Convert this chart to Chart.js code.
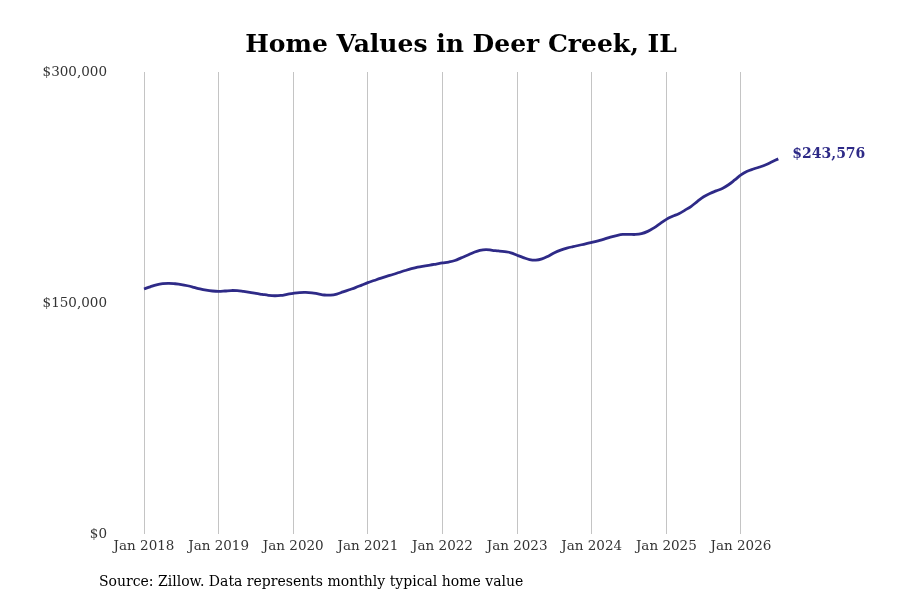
<!DOCTYPE html>
<html>
<head>
<meta charset="utf-8">
<script src="https://cdn.jsdelivr.net/npm/chart.js@4"></script>
<style>
  html, body { margin: 0; padding: 0; background: #fff; }
  #wrap { width: 900px; height: 600px; }
</style>
</head>
<body>
<div id="wrap"><canvas id="home-values"></canvas></div>
<script>
// monthly typical home value, Jan 2018 .. Jul 2026
var months = [];
var yearLabels = ['Jan 2018', 'Jan 2019', 'Jan 2020', 'Jan 2021', 'Jan 2022', 'Jan 2023', 'Jan 2024', 'Jan 2025', 'Jan 2026'];
var yTicks = [0, 150000, 300000];
var homeValues = [
    159100, 160500, 161800, 162600, 162800, 162500, 162000, 161200, 160200, 159100, 158300, 157800,
    157600, 157800, 158100, 158000, 157500, 156900, 156200, 155600, 155000, 154700, 154900, 155600,
    156300, 156800, 156900, 156600, 155900, 155200, 155100, 155800, 157200, 158600, 160000, 161600,
    163200, 164600, 166000, 167300, 168500, 169800, 171100, 172300, 173300, 174000, 174600, 175300,
    176000, 176600, 177600, 179300, 181000, 182800, 184200, 184700, 184200, 183800, 183300, 182600,
    181000, 179500, 178200, 177800, 178600, 180400, 182600, 184300, 185600, 186600, 187500, 188400,
    189400, 190400, 191500, 192800, 193800, 194500, 194600, 194500, 195000, 196500, 198800, 201600,
    204300, 206300, 208000, 210300, 212800, 216000, 219000, 221100, 222800, 224400, 226800, 229900,
    233200, 235500, 237000, 238300, 239800, 241700, 243576
];
for (var i = 0; i < homeValues.length; i++) months.push(i);

var lineColor = '#2e2a87';
var serif = "'DejaVu Serif', serif";

function money(v) {
    return '$' + Math.round(v).toLocaleString('en-US');
}

var textPlugin = {
    id: 'textPlugin',
    afterDraw: function(chart) {
        var ctx = chart.ctx;
        ctx.save();
        // title
        ctx.fillStyle = '#000';
        ctx.font = 'bold 25px ' + serif;
        ctx.textAlign = 'center';
        ctx.textBaseline = 'middle';
        ctx.fillText('Home Values in Deer Creek, IL', 461, 45);
        // source
        ctx.font = '14px ' + serif;
        ctx.textAlign = 'left';
        ctx.fillText('Source: Zillow. Data represents monthly typical home value', 99, 582);
        // last value
        var meta = chart.getDatasetMeta(0);
        var last = meta.data[meta.data.length - 1];
        ctx.fillStyle = lineColor;
        ctx.font = 'bold 14px ' + serif;
        ctx.fillText(money(homeValues[homeValues.length - 1]), last.x + 14, last.y - 5);
        ctx.restore();
    }
};

var ctx = document.getElementById('home-values').getContext('2d');
var homeChart = new Chart(ctx, {
    type: 'line',
    data: {
        datasets: [{
            data: months.map(function(m, i) { return { x: m, y: homeValues[i] }; }),
            borderColor: lineColor,
            borderWidth: 2.8,
            pointRadius: 0,
            tension: 0.4,
            fill: false
        }]
    },
    options: {
        responsive: true,
        maintainAspectRatio: false,
        animation: false,
        layout: {
            padding: { top: 72, right: 90, bottom: 36, left: 0 }
        },
        plugins: {
            legend: { display: false },
            tooltip: { enabled: false }
        },
        scales: {
            x: {
                type: 'linear',
                min: -5.15,
                max: 107.1,
                afterBuildTicks: function(scale) {
                    scale.ticks = yearLabels.map(function(l, i) { return { value: i * 12 }; });
                },
                afterFit: function(scale) { scale.height = 30; },
                ticks: {
                    callback: function(v) { return yearLabels[Math.round(v / 12)]; },
                    color: '#333',
                    font: { family: serif, size: 13.5 },
                    padding: 4,
                    maxRotation: 0,
                    autoSkip: false
                },
                grid: { color: '#c4c4c4', drawTicks: false },
                border: { display: false }
            },
            y: {
                min: 0,
                max: 300000,
                afterBuildTicks: function(scale) {
                    scale.ticks = yTicks.map(function(v) { return { value: v }; });
                },
                afterFit: function(scale) { scale.width = 112; },
                ticks: {
                    callback: function(v) { return money(v); },
                    color: '#333',
                    font: { family: serif, size: 13.5 },
                    padding: 5
                },
                grid: { display: false, drawTicks: false },
                border: { display: false }
            }
        }
    },
    plugins: [textPlugin]
});
</script>
</body>
</html>
